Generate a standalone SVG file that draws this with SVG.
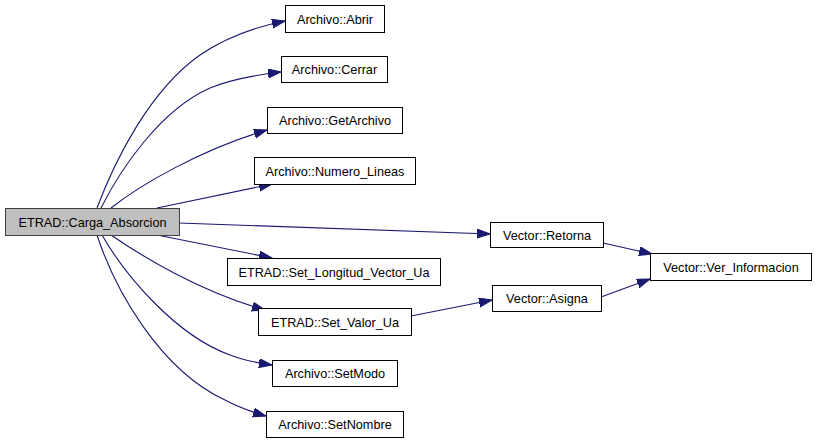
<svg xmlns="http://www.w3.org/2000/svg" width="816" height="443" viewBox="0 0 816 443">
<defs>
<style>
.n rect{fill:#ffffff;stroke:#000000;stroke-width:1}
.n text{font-family:"Liberation Sans",Arial,sans-serif;font-size:12.7px;fill:#000000;text-anchor:middle}
#main rect{fill:#bfbfbf;stroke:#404040}
.e path{fill:none;stroke:#191970;stroke-width:1.1}
</style>
<marker id="ah" markerUnits="userSpaceOnUse" markerWidth="14" markerHeight="10" refX="13" refY="4.5" orient="auto">
<path d="M0,0 L13,4.5 L0,9 z" fill="#191970" stroke="#191970" stroke-width="1"/>
</marker>
</defs>
<rect width="816" height="443" fill="#ffffff"/>
<g id="edges" class="e">
<path d="M97,208 C115,160 150,90 200,55 C225,38 255,27 285,21" marker-end="url(#ah)"/>
<path d="M101,208 C120,170 160,110 210,88 C232,79 255,75 281,72" marker-end="url(#ah)"/>
<path d="M111,208 C140,185 200,150 267,130" marker-end="url(#ah)"/>
<path d="M157,208 L272,184" marker-end="url(#ah)"/>
<path d="M179,223 L490,234" marker-end="url(#ah)"/>
<path d="M157,235 L272,258" marker-end="url(#ah)"/>
<path d="M111,235 C140,255 200,292 265,310" marker-end="url(#ah)"/>
<path d="M102,235 C125,275 175,335 230,355 C243,360 258,363 272,365" marker-end="url(#ah)"/>
<path d="M97,235 C115,290 160,370 225,400 C238,407 252,412 266,416" marker-end="url(#ah)"/>
<path d="M411,316 L492,300" marker-end="url(#ah)"/>
<path d="M601,297 L650,279" marker-end="url(#ah)"/>
<path d="M603,243 L652,254" marker-end="url(#ah)"/>
</g>
<g id="main" class="n"><rect x="5.5" y="208.5" width="174" height="27"/><text x="92.5" y="226.5">ETRAD::Carga_Absorcion</text></g>
<g id="abrir" class="n"><rect x="285.5" y="5.5" width="99" height="27"/><text x="335" y="23.5">Archivo::Abrir</text></g>
<g id="cerrar" class="n"><rect x="281.5" y="56.5" width="106" height="26"/><text x="334.5" y="74">Archivo::Cerrar</text></g>
<g id="getarchivo" class="n"><rect x="267.5" y="107.5" width="135" height="26"/><text x="335" y="125">Archivo::GetArchivo</text></g>
<g id="numlineas" class="n"><rect x="254.5" y="157.5" width="161" height="27"/><text x="335" y="175.5">Archivo::Numero_Lineas</text></g>
<g id="setlongitud" class="n"><rect x="227.5" y="258.5" width="213" height="27"/><text x="334" y="276.5">ETRAD::Set_Longitud_Vector_Ua</text></g>
<g id="setvalor" class="n"><rect x="258.5" y="308.5" width="153" height="27"/><text x="335" y="326.5">ETRAD::Set_Valor_Ua</text></g>
<g id="setmodo" class="n"><rect x="272.5" y="360.5" width="125" height="26"/><text x="335" y="378">Archivo::SetModo</text></g>
<g id="setnombre" class="n"><rect x="266.5" y="411.5" width="137" height="26"/><text x="335" y="429">Archivo::SetNombre</text></g>
<g id="retorna" class="n"><rect x="490.5" y="222.5" width="113" height="25"/><text x="547" y="239.5">Vector::Retorna</text></g>
<g id="asigna" class="n"><rect x="492.5" y="285.5" width="109" height="26"/><text x="547" y="303">Vector::Asigna</text></g>
<g id="verinfo" class="n"><rect x="650.5" y="253.5" width="161" height="27"/><text x="731" y="271.5">Vector::Ver_Informacion</text></g>
</svg>
